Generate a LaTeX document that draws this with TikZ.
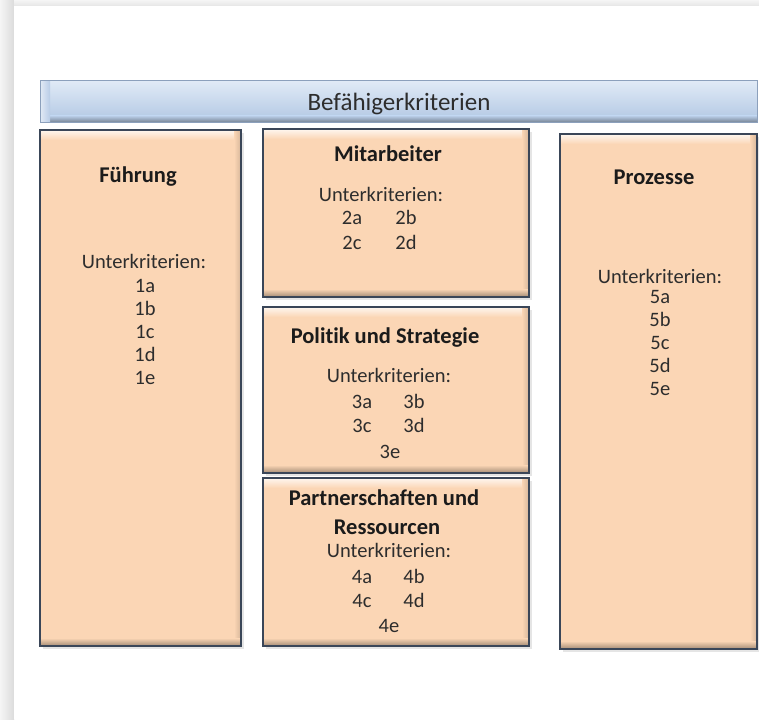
\documentclass[tikz,border=0pt]{standalone}
\usepackage{fontspec}
\setmainfont[Ligatures=NoCommon]{Carlito}
\usetikzlibrary{positioning,calc}
\definecolor{Peach}{RGB}{251,214,181}
\definecolor{BoxEdge}{RGB}{58,70,88}
\definecolor{BarTop}{RGB}{224,234,246}
\definecolor{BarBot}{RGB}{184,204,230}
\definecolor{BarEdge}{RGB}{140,160,188}
\definecolor{Ink}{RGB}{45,45,45}
\tikzstyle{hdr} = [font=\fontsize{25}{30}\selectfont, text=Ink, anchor=base, inner sep=0pt]
\tikzstyle{ttl} = [font=\fontsize{22.5}{27}\selectfont\bfseries, text=Ink!60!black, anchor=base, inner sep=0pt]
\tikzstyle{sub} = [font=\fontsize{20.5}{24}\selectfont, text=Ink, anchor=base, inner sep=0pt]
% bevelled criterion box: left, top, right, bottom
\newcommand{\critbox}[4]{%
\fill[black!10] ({#1+3},{#2+3}) rectangle ({#3+3},{#4+3});
\fill[Peach] (#1,#2) rectangle (#3,#4);
\shade[top color=white!80!Peach, bottom color=Peach] (#1,#2) rectangle (#3,{#2+10});
\shade[left color=Peach, right color=Peach!85!black] ({#3-7},#2) rectangle (#3,#4);
\shade[top color=Peach, bottom color=Peach!65!black] (#1,{#4-8}) rectangle (#3,#4);
\draw[BoxEdge, line width=2.8pt] (#1,#2) rectangle (#3,#4);}

\begin{document}
\begin{tikzpicture}[x=1pt,y=-1pt]
\useasboundingbox (0,0) rectangle (759,719);
% page edge
\shade[left color=black!4, right color=black!14] (0,0) rectangle (14,719);
\shade[top color=black!4, bottom color=black!10] (14,0) rectangle (759,6);
\fill[white] (14,6) rectangle (759,719);
% header bar
\shade[top color=BarTop, bottom color=BarBot] (40,81) rectangle (757,116);
\shade[top color=BarBot, bottom color=BarBot!60!black] (40,116) rectangle (757,123);
\shade[left color=white!60!BarBot, right color=BarBot] (40,81) rectangle (50,123);
\draw[BarEdge, line width=1pt] (40,81) rectangle (757,123);
\node[hdr] (befaehiger) at (399,111) {Befähigerkriterien};
% boxes
\critbox{40}{130}{241}{646}
\critbox{263}{129}{529}{297}
\critbox{263}{307}{529}{473}
\critbox{263}{478}{529}{646}
\critbox{560}{134}{757}{649}
% Fuehrung
\node[ttl] (fuehrung) at (138,183) {Führung};
\node[sub] (uk1) at (144,268) {Unterkriterien:};
\foreach \s/\y in {a/292,b/315,c/338,d/361,e/384}
  \node[sub] (k1\s) at (145,\y) {1\s};
% Mitarbeiter
\node[ttl] (mitarbeiter) at (388,162) {Mitarbeiter};
\node[sub] (uk2) at (381,202) {Unterkriterien:};
\node[sub] (k2a) at (352,225) {2a};
\node[sub] (k2b) at (406,225) {2b};
\node[sub] (k2c) at (352,249) {2c};
\node[sub] (k2d) at (406,249) {2d};
% Politik und Strategie
\node[ttl] (politik) at (385,343) {Politik und Strategie};
\node[sub] (uk3) at (389,382) {Unterkriterien:};
\node[sub] (k3a) at (362,408) {3a};
\node[sub] (k3b) at (414,408) {3b};
\node[sub] (k3c) at (362,432) {3c};
\node[sub] (k3d) at (414,432) {3d};
\node[sub] (k3e) at (390,458) {3e};
% Partnerschaften und Ressourcen
\node[ttl] (partner) at (384,505) {Partnerschaften und};
\node[ttl] (ressourcen) at (387,534) {Ressourcen};
\node[sub] (uk4) at (389,557) {Unterkriterien:};
\node[sub] (k4a) at (362,583) {4a};
\node[sub] (k4b) at (414,583) {4b};
\node[sub] (k4c) at (362,607) {4c};
\node[sub] (k4d) at (414,607) {4d};
\node[sub] (k4e) at (389,632) {4e};
% Prozesse
\node[ttl] (prozesse) at (654,185) {Prozesse};
\node[sub] (uk5) at (660,283) {Unterkriterien:};
\foreach \s/\y in {a/303,b/326,c/349,d/372,e/395}
  \node[sub] (k5\s) at (660,\y) {5\s};
\end{tikzpicture}
\end{document}
